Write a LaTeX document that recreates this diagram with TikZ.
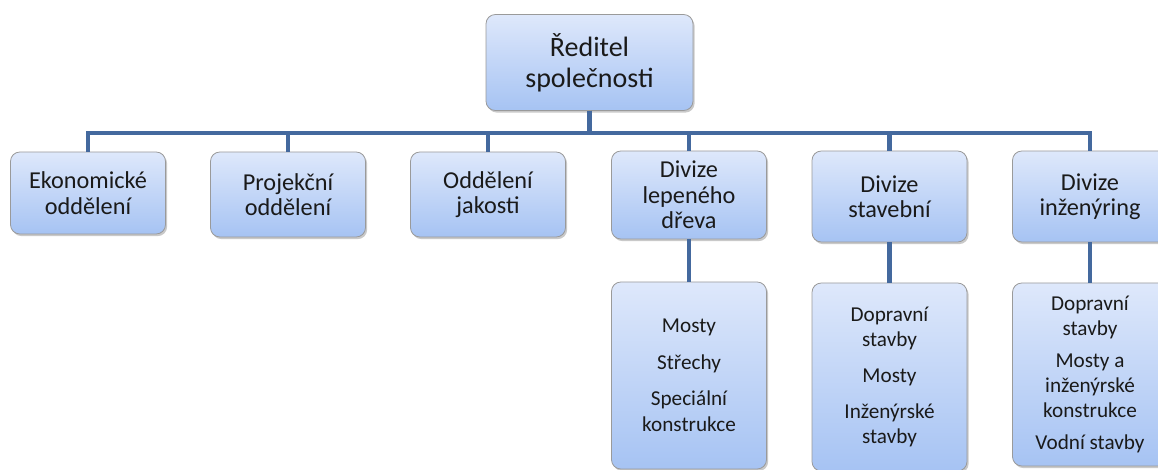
\documentclass[tikz,border=0pt]{standalone}
\usepackage{fontspec}
\setmainfont{Carlito}
\usetikzlibrary{shadows}
\definecolor{orgtop}{HTML}{DEE8FB}
\definecolor{orgbottom}{HTML}{A6C3F3}
\definecolor{orgborder}{HTML}{9A9A9A}
\definecolor{orgline}{HTML}{44699E}
\definecolor{orgink}{HTML}{1A1A1A}

\begin{document}
\begin{tikzpicture}[x=.75pt,y=-.75pt,
    orgbox/.style={draw=orgborder,line width=.6pt,rounded corners=7pt,
      top color=orgtop,bottom color=orgbottom,align=center,inner sep=0pt,
      text=orgink,minimum width=116.25pt,
      drop shadow={shadow xshift=1.2pt,shadow yshift=-1.6pt,opacity=.3,fill=black!70}},
    orgline/.style={draw=orgline,line width=3.7pt,line join=miter}]
    \useasboundingbox (0,0) rectangle (1158,470);
    % top
    \node[orgbox,minimum width=155.25pt,minimum height=72pt,
      font=\fontsize{21}{23}\selectfont] (dir) at (589.5,62.5)
      {Ředitel\\společnosti};
    % second level
    \node[orgbox,minimum height=61.5pt,font=\fontsize{18.2}{19}\selectfont]
      (eko) at (88,193) {Ekonomické\\oddělení};
    \node[orgbox,minimum height=63.75pt,font=\fontsize{18.2}{19}\selectfont]
      (proj) at (288,194.5) {Projekční\\oddělení};
    \node[orgbox,minimum height=63.75pt,font=\fontsize{18.2}{19}\selectfont]
      (jak) at (488,194.5) {Oddělení\\jakosti};
    \node[orgbox,minimum height=66pt,font=\fontsize{18.2}{19}\selectfont]
      (lep) at (689,195) {Divize\\lepeného\\dřeva};
    \node[orgbox,minimum height=68.25pt,font=\fontsize{18.2}{19}\selectfont]
      (stav) at (889.5,196.5) {Divize\\stavební};
    \node[orgbox,minimum height=68.25pt,font=\fontsize{18.2}{19}\selectfont]
      (inz) at (1090,196.5) {Divize\\inženýring};
    % third level
    \node[orgbox,minimum height=140.25pt,font=\fontsize{15.9}{19.5}\selectfont]
      (lepsub) at (689,375.5) {Mosty\\[8pt]Střechy\\[8pt]Speciální\\konstrukce};
    \node[orgbox,minimum height=141pt,font=\fontsize{15.9}{18.5}\selectfont]
      (stavsub) at (889.5,377) {Dopravní\\stavby\\[8.5pt]Mosty\\[8.5pt]Inženýrské\\stavby};
    \node[orgbox,minimum height=137.25pt,font=\fontsize{15.9}{18.5}\selectfont]
      (inzsub) at (1090,374.5) {Dopravní\\stavby\\[6pt]Mosty a\\inženýrské\\konstrukce\\[6pt]Vodní stavby};
    % connectors
    \coordinate (bus) at (589.5,133);
    \foreach \n in {eko,proj,jak,lep,stav,inz}{
      \draw[orgline] (dir.south) -- (dir.south |- bus) -| (\n.north);
    }
    \draw[orgline] (lep.south) -- (lepsub.north);
    \draw[orgline] (stav.south) -- (stavsub.north);
    \draw[orgline] (inz.south) -- (inzsub.north);
  \end{tikzpicture}
\end{document}
